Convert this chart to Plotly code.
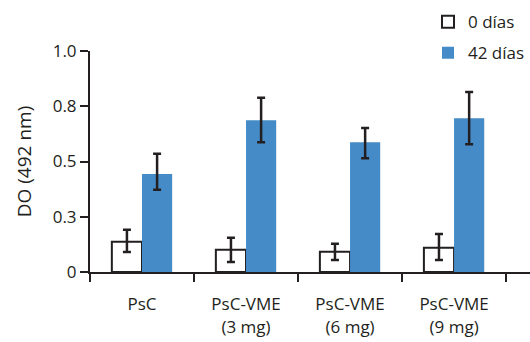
import plotly.graph_objects as go

categories = ["PsC", "PsC-VME<br>(3 mg)", "PsC-VME<br>(6 mg)", "PsC-VME<br>(9 mg)"]
series_names = ["0 días", "42 días"]
day0 = [0.137, 0.101, 0.092, 0.110]
day0_err_plus = [0.054, 0.054, 0.036, 0.062]
day0_err_minus = [0.047, 0.056, 0.038, 0.056]
day42 = [0.443, 0.687, 0.587, 0.696]
day42_err_plus = [0.092, 0.101, 0.065, 0.119]
day42_err_minus = [0.071, 0.100, 0.072, 0.118]
y_tickvals = [0, 0.25, 0.5, 0.75, 1.0]
y_ticktext = ["0", "0.3", "0.5", "0.8", "1.0"]

ink = "#231f20"
blue = "#458BC7"
font_family = "'Open Sans', Lato, sans-serif"

fig = go.Figure()
fig.add_trace(go.Bar(
    x=categories, y=day0, name=series_names[0], legendgroup="a",
    marker=dict(color="white", line=dict(color=ink, width=2)),
    error_y=dict(type="data", symmetric=False, array=day0_err_plus,
                 arrayminus=day0_err_minus, color=ink, thickness=2.5, width=4),
))
fig.add_trace(go.Bar(
    x=categories, y=day42, name=series_names[1], legendgroup="b",
    marker=dict(color=blue, line=dict(width=0)),
    error_y=dict(type="data", symmetric=False, array=day42_err_plus,
                 arrayminus=day42_err_minus, color=ink, thickness=2.5, width=4),
))

fig.update_layout(
    width=530, height=342,
    margin=dict(l=90, r=0, t=51, b=70),
    paper_bgcolor="white", plot_bgcolor="white",
    font=dict(family=font_family, size=17, color=ink),
    barmode="group", bargap=0.42, bargroupgap=0,
    showlegend=True,
    legend=dict(x=1, y=1.212, xanchor="right", yanchor="top",
                font=dict(size=17, color=ink), tracegroupgap=6,
                bgcolor="rgba(0,0,0,0)", borderwidth=0),
    xaxis=dict(
        range=[-0.5, 3.73], showline=True, linecolor=ink, linewidth=2,
        ticks="outside", tickson="boundaries", ticklen=8, tickwidth=2, tickcolor=ink,
        showgrid=False, zeroline=False, ticklabelstandoff=16, automargin=False,
        tickfont=dict(size=17),
    ),
    yaxis=dict(
        range=[0, 1.0], showline=True, linecolor=ink, linewidth=2,
        tickvals=y_tickvals, ticktext=y_ticktext,
        ticks="outside", ticklen=8, tickwidth=2, tickcolor=ink,
        showgrid=False, zeroline=False, automargin=False,
        tickfont=dict(size=17),
        title=dict(text="DO (492 nm)", font=dict(size=19), standoff=16),
    ),
)

fig.write_html("out.html", config={"displayModeBar": False},
               post_script="document.body.style.margin='0px';")
